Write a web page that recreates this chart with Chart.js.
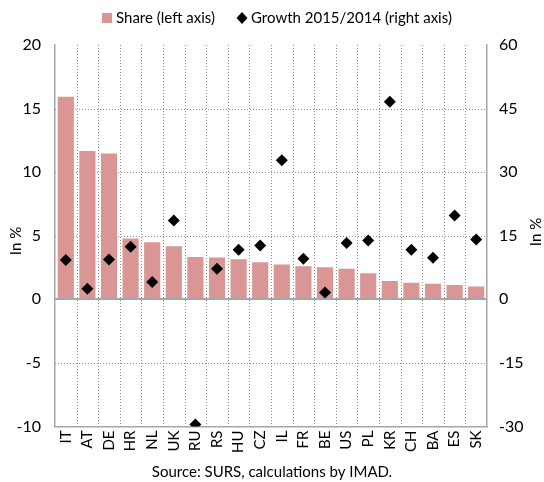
<!DOCTYPE html>
<html><head><meta charset="utf-8">
<script src="https://cdn.jsdelivr.net/npm/chart.js@4"></script>
<style>html,body{margin:0;padding:0;background:#fff}#wrap{width:544px;height:482px}</style>
</head><body><div id="wrap"><canvas id="c" width="544" height="482"></canvas></div>
<script>
const categories = ['IT','AT','DE','HR','NL','UK','RU','RS','HU','CZ','IL','FR','BE','US','PL','KR','CH','BA','ES','SK'];
const shareValues = [16.0,11.75,11.55,4.86,4.57,4.25,3.41,3.36,3.23,2.99,2.81,2.68,2.60,2.49,2.13,1.52,1.39,1.31,1.21,1.08];
const growthValues = [9.3,2.5,9.4,12.4,4.1,18.6,-29.5,7.2,11.7,12.7,32.8,9.6,1.6,13.3,13.9,46.6,11.7,9.8,19.8,14.1];
const leftTicks = [-10,-5,0,5,10,15,20];
const rightTicks = [-30,-15,0,15,30,45,60];
const shareLabel = 'Share (left axis)';
const growthLabel = 'Growth 2015/2014 (right axis)';
const axisTitle = 'In %';
const sourceText = 'Source: SURS, calculations by IMAD.';

const FONT = 'Lato';
const gridColor = '#8E8E8E';
const axisColor = '#A6A6A6';
const barColor = '#D99694';

// dotted grid drawn from the library's own scales, behind the bars
const gridPlugin = {
  id: 'dottedGrid',
  beforeDatasetsDraw(chart) {
    const ctx = chart.ctx, area = chart.chartArea;
    const x = chart.scales.x, y = chart.scales.y;
    ctx.save();
    ctx.lineWidth = 1;
    ctx.strokeStyle = gridColor;
    ctx.setLineDash([1, 2]);
    leftTicks.forEach(v => {
      if (v === 0 || v === leftTicks[0] || v === leftTicks[leftTicks.length - 1]) return;
      const py = Math.round(y.getPixelForValue(v)) + 0.5;
      ctx.beginPath(); ctx.moveTo(area.left, py); ctx.lineTo(area.right, py); ctx.stroke();
    });
    for (let i = 0; i < categories.length - 1; i++) {
      const px = Math.round((x.getPixelForValue(i) + x.getPixelForValue(i + 1)) / 2) + 0.5;
      ctx.beginPath(); ctx.moveTo(px, area.top); ctx.lineTo(px, area.bottom); ctx.stroke();
    }
    ctx.restore();
  },
  afterDatasetsDraw(chart) {
    const ctx = chart.ctx, area = chart.chartArea, y = chart.scales.y;
    ctx.save();
    ctx.lineWidth = 2;
    ctx.strokeStyle = axisColor;
    const py = Math.round(y.getPixelForValue(0));
    ctx.beginPath(); ctx.moveTo(area.left, py); ctx.lineTo(area.right, py); ctx.stroke();
    ctx.restore();
  }
};

const extrasPlugin = {
  id: 'extras',
  afterDraw(chart) {
    const ctx = chart.ctx;
    [[16, 241], [536, 232]].forEach(([x, y]) => {
      ctx.save();
      ctx.fillStyle = '#000';
      ctx.font = '15px ' + FONT;
      ctx.textAlign = 'center';
      ctx.textBaseline = 'middle';
      ctx.translate(x, y); ctx.rotate(-Math.PI/2); ctx.fillText(axisTitle, 0, 0);
      ctx.restore();
    });
    ctx.save();
    ctx.font = '15px ' + FONT;
    ctx.textBaseline = 'middle';
    ctx.fillStyle = barColor;
    ctx.fillRect(102, 13, 10, 10);
    ctx.fillStyle = '#000';
    ctx.fillText(shareLabel, 116, 18);
    ctx.beginPath();
    ctx.moveTo(242, 12); ctx.lineTo(247.5, 18); ctx.lineTo(242, 24); ctx.lineTo(236.5, 18); ctx.closePath();
    ctx.fill();
    ctx.fillText(growthLabel, 251, 18);
    ctx.restore();
  }
};

new Chart(document.getElementById('c'), {
  data: {
    labels: categories,
    datasets: [
      { type: 'line', label: growthLabel, data: growthValues, yAxisID: 'y1',
        showLine: false, pointStyle: 'rectRot', pointRadius: 6, pointHoverRadius: 6,
        backgroundColor: '#000', borderColor: '#000', borderWidth: 0, order: 0 },
      { type: 'bar', label: shareLabel, data: shareValues, yAxisID: 'y',
        backgroundColor: barColor, borderColor: 'rgba(255,255,255,0.5)', borderWidth: 1,
        barPercentage: 0.84, categoryPercentage: 1.0, order: 1 }
    ]
  },
  options: {
    responsive: false, animation: false,
    layout: { padding: { top: 45, left: 0, right: 0, bottom: 1 } },
    plugins: {
      legend: { display: false },
      title: { display: true, position: 'bottom', text: sourceText, color: '#000',
        font: { family: FONT, size: 15, weight: 'normal' }, padding: { top: 6, bottom: 0 } },
      tooltip: { enabled: false }
    },
    scales: {
      x: {
        grid: { drawOnChartArea: false, drawTicks: false },
        border: { display: true, color: axisColor, width: 1.5 },
        ticks: { minRotation: 90, maxRotation: 90, color: '#000', padding: 4, font: { family: FONT, size: 15 } }
      },
      y: {
        position: 'left', min: -10, max: 20,
        afterBuildTicks: s => { s.ticks = leftTicks.map(v => ({ value: v })); },
        afterFit: s => { s.width = 55; },
        grid: { drawOnChartArea: false, drawTicks: false },
        border: { display: true, color: axisColor, width: 1.5 },
        ticks: { color: '#000', padding: 14, font: { family: FONT, size: 16 } }
      },
      y1: {
        position: 'right', min: -30, max: 60,
        afterBuildTicks: s => { s.ticks = rightTicks.map(v => ({ value: v })); },
        afterFit: s => { s.width = 57; },
        grid: { drawOnChartArea: false, drawTicks: false },
        border: { display: true, color: axisColor, width: 1.5 },
        ticks: { color: '#000', padding: 12, font: { family: FONT, size: 16 } }
      }
    }
  },
  plugins: [gridPlugin, extrasPlugin]
});
</script></body></html>
